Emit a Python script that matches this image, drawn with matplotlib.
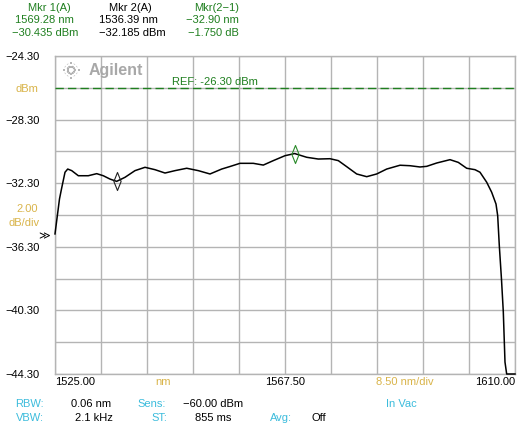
import numpy as np
import matplotlib.pyplot as plt
from matplotlib.path import Path

plt.rcParams.update({"font.family": ["Liberation Sans", "DejaVu Sans"],
                     "font.size": 8})

# trace (nm, dBm)
wavelength = [1525.00, 1525.83, 1526.20, 1526.85, 1527.35, 1528.09, 1529.31,
              1531.15, 1532.71, 1533.92, 1535.16, 1536.39, 1537.93, 1539.78,
              1541.63, 1543.48, 1545.33, 1547.17, 1549.34, 1551.48, 1553.64,
              1555.80, 1557.34, 1559.18, 1561.64, 1563.49, 1565.34, 1567.50,
              1569.28, 1571.51, 1573.65, 1575.81, 1577.35, 1578.90, 1580.75,
              1582.60, 1584.44, 1586.29, 1588.75, 1590.60, 1592.44, 1593.68,
              1595.53, 1597.99, 1599.52, 1601.07, 1602.61, 1603.53, 1604.77,
              1605.69, 1606.49, 1606.80, 1607.10, 1607.50, 1607.84, 1608.15,
              1608.46, 1610.00]
power = [-35.49, -33.29, -32.66, -31.61, -31.41, -31.51, -31.83,
         -31.83, -31.70, -31.83, -32.04, -32.185, -31.93, -31.51,
         -31.30, -31.45, -31.66, -31.51, -31.36, -31.51, -31.72,
         -31.41, -31.25, -31.05, -31.05, -31.16, -30.88, -30.57,
         -30.435, -30.67, -30.78, -30.76, -30.88, -31.26, -31.72,
         -31.89, -31.72, -31.41, -31.17, -31.20, -31.28, -31.24,
         -31.03, -30.82, -30.99, -31.36, -31.45, -31.61, -32.24,
         -32.87, -33.61, -34.34, -36.23, -38.33, -40.40, -43.55,
         -44.30, -44.30]

marker_nm = [1536.39, 1569.28]
marker_dbm = [-32.185, -30.435]
marker_colors = ["#202020", "#2a8a2a"]

x_ticks = [1525.00, 1567.50, 1610.00]
y_ticks = [-24.30, -28.30, -32.30, -36.30, -40.30, -44.30]
ref_level = -26.30

GREEN = "#1f7f1f"
YELLOW = "#d9b44a"
CYAN = "#3cbcdc"
GRID = "#b4b4b4"
LOGO = "#a8a8a8"

fig = plt.figure(figsize=(5.2, 4.27), dpi=100)
W, H = 520.0, 427.0
ax = fig.add_axes([55 / W, 1 - 375 / H, 460 / W, 318 / H])

ax.set_xlim(1525.0, 1610.0)
ax.set_ylim(-44.30, -24.30)
ax.set_xticks(np.linspace(1525.0, 1610.0, 11))
ax.set_yticks(np.linspace(-44.30, -24.30, 11))
ax.grid(True, color=GRID, linewidth=1.0)
ax.tick_params(length=0, labelbottom=False, labelleft=False)
for spine in ax.spines.values():
    spine.set_color(GRID)
    spine.set_linewidth(1.0)

ax.axhline(ref_level, color=GREEN, linewidth=1.0, dashes=(6, 3), zorder=3)
ax.plot(wavelength, power, color="black", linewidth=1.1, zorder=4,
        clip_on=False)

diamond = Path([(0, 1), (0.4, 0), (0, -1), (-0.4, 0), (0, 1)],
               [Path.MOVETO, Path.LINETO, Path.LINETO, Path.LINETO,
                Path.CLOSEPOLY])
for mx, my, mc in zip(marker_nm, marker_dbm, marker_colors):
    ax.plot([mx], [my], marker=diamond, markersize=13, markerfacecolor="none",
            markeredgecolor=mc, markeredgewidth=0.8, zorder=5)

ax.text(0.255, ref_level + 0.12, "REF: -26.30 dBm", color=GREEN, fontsize=8,
        transform=ax.get_yaxis_transform(), va="bottom", ha="left")


def ftext(x, y, s, color="black", ha="left", **kw):
    fig.text(x / W, 1 - y / H, s, color=color, ha=ha, va="center",
             fontsize=kw.pop("fontsize", 8), **kw)


# y axis labels
for val in y_ticks:
    ypix = 57 + (-24.30 - val) / 20.0 * 318
    ftext(40, ypix, f"{val:.2f}".replace("-", "\u2212"), ha="right")
ftext(38, 89, "dBm", YELLOW, ha="right")
ftext(38, 209, "2.00", YELLOW, ha="right")
ftext(40, 223, "dB/div", YELLOW, ha="right")
ftext(50, 236, "\u226b", "black", ha="right", fontsize=8)

# x axis labels
ftext(55, 382, f"{x_ticks[0]:.2f}")
ftext(163, 382, "nm", YELLOW, ha="center")
ftext(285, 382, f"{x_ticks[1]:.2f}", ha="center")
ftext(405, 382, "8.50 nm/div", YELLOW, ha="center")
ftext(515, 382, f"{x_ticks[2]:.2f}", ha="right")

# settings rows
ftext(44, 404, "RBW:", CYAN, ha="right")
ftext(71, 404, "0.06 nm")
ftext(166, 404, "Sens:", CYAN, ha="right")
ftext(183, 404, "\u221260.00 dBm")
ftext(401, 404, "In Vac", CYAN, ha="center")
ftext(44, 418, "VBW:", CYAN, ha="right")
ftext(75, 418, "2.1 kHz")
ftext(167, 418, "ST:", CYAN, ha="right")
ftext(195, 418, "855 ms")
ftext(292, 418, "Avg:", CYAN, ha="right")
ftext(311, 418, "Off")

# marker readout
ftext(49, 8, "Mkr 1(A)", GREEN, ha="center")
ftext(15, 20, "1569.28 nm", GREEN)
ftext(12, 33, "\u221230.435 dBm", GREEN)
ftext(130, 8, "Mkr 2(A)", ha="center")
ftext(99, 20, "1536.39 nm")
ftext(99, 33, "\u221232.185 dBm")
ftext(239, 8, "Mkr(2\u22121)", GREEN, ha="right")
ftext(239, 20, "\u221232.90 nm", GREEN, ha="right")
ftext(239, 33, "\u22121.750 dB", GREEN, ha="right")

# logo
ftext(89, 71, "Agilent", LOGO, fontweight="bold", fontsize=11.5)
for ang in np.arange(0, 360, 30):
    c, s = np.cos(np.radians(ang)), np.sin(np.radians(ang))
    r_in, r_out = (2.5, 10) if ang % 90 == 0 else (2.5, 7)
    fig.add_artist(plt.Line2D([(71 + r_in * c) / W, (71 + r_out * c) / W],
                              [1 - (71 + r_in * s) / H,
                               1 - (71 + r_out * s) / H],
                              color=LOGO, linewidth=1.2,
                              linestyle=(0, (1.2, 1.2))))

fig.savefig("out.png", dpi=100)
